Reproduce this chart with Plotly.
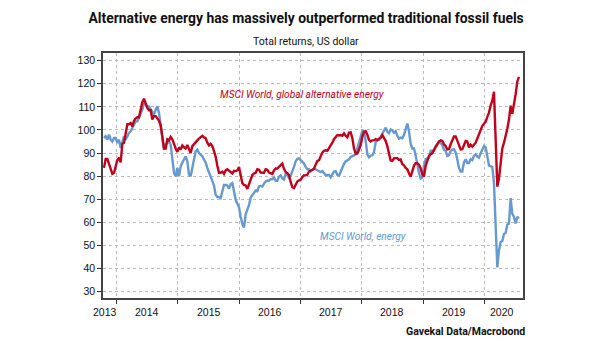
import pandas as pd
import plotly.graph_objects as go

# Sampling dates (~10-day steps, Oct 2013 - Jul 2020)
dates = pd.date_range("2013-10-17", "2020-07-26", periods=250)

alt_energy = [
    83.6, 87.5, 87.5, 85.5, 83, 81, 81.5, 84.5, 87, 88, 86, 94, 94.5, 98.5, 102.5, 102.5, 103, 101.5, 104, 105,
    105.5, 105.5, 108.5, 112, 113.5, 111.5, 109.5, 108.5, 108.5, 104.5, 106, 106, 105, 104, 102, 97, 92, 92, 96, 95.5,
    97, 96, 93.5, 92, 90.5, 92.5, 91.5, 93.3, 92.5, 92, 93.5, 91.5, 90, 93, 94, 94.5, 95.5, 96.3, 96.8, 97.5,
    96.8, 96.5, 94.5, 93.3,
    94, 93, 90.8, 88.5, 84.5, 81.5, 81.5, 82, 81, 82.5, 83, 82.3, 82, 81.2, 82.3, 82.2, 82.5, 84, 80.5, 77,
    76.2, 76, 74.5, 76.5, 79, 80.5, 81.2, 81.5, 83, 82.8, 81.6, 81.5, 81.5, 83, 82.8, 81.6, 81.3, 81, 82.5, 83.3,
    83.3, 84, 85, 85.5, 83.2, 81.8, 81.3, 80.5, 77.5, 75.2, 74.8, 76.2, 77.7, 78.2, 78.5, 79.6, 80.3, 80.4, 80.6, 82,
    82.4, 82.8, 83.2,
    85, 86.6, 86.9, 88.5, 90.2, 91, 91.2, 91, 92, 93.2, 94.5, 96, 97, 97.8, 97.6, 97.8, 97.5, 98.5, 97.5, 96.8,
    98.9, 99, 96.5, 92, 89.8, 89.8, 91.4, 93.5, 97, 99.2, 99.5, 98, 95.7, 95, 95.5, 95.5, 96, 95.6, 96.2, 96.6,
    97.8, 96.8, 95.3, 93, 89, 86.8, 86.6, 87.7, 87.8, 87.8, 87, 87.2, 85.2, 84.7, 83.6, 83, 81.3, 79.8, 82.2, 84.6,
    85.6, 85.6, 85,
    83.5, 80.8, 79.8, 84.5, 87.2, 88.8, 89.5, 90, 91.4, 92.8, 94.3, 95, 95.5, 95.2, 93.8, 93, 91.6, 91.8, 93.8, 96,
    97.2, 97.2, 95.6, 93.8, 91.6, 91.7, 93.5, 95.2, 95, 92.5, 93.6, 92.8, 93.6, 94.5, 96.3, 98.2, 100, 101.8, 102.7, 103.5,
    105.7, 107.5, 110.5, 112.7, 116.5, 98, 75.5, 79, 86.8, 92, 94.5, 97.3, 100.5, 104.5, 110.5, 107, 110.5, 115.5, 121, 123,
]

energy = [
    96.5, 97.3, 95.8, 98, 95.8, 95, 96.5, 96.5, 94.4, 95.8, 92.2, 95, 97.3, 95.8, 97.3, 98.7, 99.4, 100.9, 102.3, 103.7,
    103.7, 105.2, 106.6, 108.8, 111.7, 111, 110.2, 110.2, 108.8, 107.3, 106.6, 108.8, 110.2, 107.3, 101.6, 96.5, 91.5, 93.7, 94.4, 95,
    93.7, 88.6, 81.4, 80, 83.6, 80, 84.3, 85.8, 87.2, 88.6, 86.5, 80.7, 80, 84.3, 87.2, 90.8, 91.5, 90, 89.4, 88.6,
    87.2, 85.8, 83.6, 81.4,
    79.5, 78, 76, 72, 71, 71, 70.5, 74, 76.2, 76.2, 76, 74.6, 76.5, 77, 73, 69.8, 68.2, 66.5, 62.5, 59.3,
    57.8, 63.5, 65.5, 67.5, 70.8, 71.8, 72.5, 73.8, 73.5, 75.6, 75.8, 75.5, 76.8, 77.7, 78, 78, 78.8, 78.7, 79.5, 78,
    78, 79.8, 80.4, 79, 78.5, 81, 80.5, 79.3, 80.2, 81.9, 84, 86.4, 87.5, 87.7, 86.9, 86.2, 85.5, 84, 83, 83,
    82, 82.6, 83.2,
    83, 82.5, 82.2, 81.8, 82.2, 81.2, 80.4, 80.5, 80.5, 79.5, 80.5, 82, 82.2, 80.6, 80.2, 82.2, 84.2, 85.3, 86.4, 86.9,
    87.3, 88.3, 88.5, 89, 89.5, 91.9, 94.8, 97.7, 99.6, 99.3, 95.5, 89.5, 88.2, 88.9, 89, 90.4, 94.6, 95.5, 95.6, 97,
    98.3, 99.8, 101, 99.2, 98.6, 100.2, 99.8, 98.8, 99.5, 97.5, 96.3, 96.7, 96.4, 97.8, 100.5, 102.8, 99.5, 94, 92, 92,
    89, 85, 81.5,
    79, 79.5, 84.5, 87.4, 87.7, 88, 91, 91, 91, 93, 93.8, 94.9, 94.3, 93.5, 91.4, 91, 88.7, 89.1, 90.9, 91.5,
    91.6, 90.3, 87.2, 83.6, 82, 82, 86, 87.3, 85.7, 85.7, 87.4, 87, 88.8, 89.5, 88.5, 88, 89.9, 91.7, 93, 92.5,
    88, 84.6, 84.4, 84, 77, 61, 40.5, 48, 51.5, 52, 55, 55.5, 59, 59.5, 70.5, 63.8, 62.4, 59.5, 62.4, 61.7,
]

year_ticks = ["2014-01-01", "2015-01-01", "2016-01-01", "2017-01-01", "2018-01-01", "2019-01-01", "2020-01-01"]
year_labels = ["2013", "2014", "2015", "2016", "2017", "2018", "2019", "2020"]
year_label_pos = ["2013-10-20", "2014-07-02", "2015-07-02", "2016-07-02", "2017-07-02",
                  "2018-07-02", "2019-07-02", "2020-04-14"]
y_ticks = list(range(30, 131, 10))

RED = "#C3001B"
BLUE = "#6699CF"
FONT = "Roboto"
TICKFONT = "Liberation Sans"

fig = go.Figure()
fig.add_trace(go.Scatter(x=dates, y=energy, mode="lines",
                         line=dict(color=BLUE, width=2.4), showlegend=False))
fig.add_trace(go.Scatter(x=dates, y=alt_energy, mode="lines",
                         line=dict(color=RED, width=2.4), showlegend=False))

fig.update_layout(
    width=605, height=341,
    margin=dict(l=103, r=82, t=53, b=43),
    paper_bgcolor="white", plot_bgcolor="white",
    title=dict(text="<b>Alternative energy has massively outperformed traditional fossil fuels</b>",
               x=0.506, xanchor="center", y=0.947, yanchor="middle",
               font=dict(family=FONT, size=13.9, color="#111")),
    font=dict(family=TICKFONT, size=10.5, color="#111"),
)

fig.update_xaxes(
    type="date", range=["2013-10-11", "2020-08-19"],
    tickvals=year_ticks, showticklabels=False,
    ticks="outside", ticklen=4, tickcolor="#333", tickwidth=1,
    showgrid=True, gridcolor="#BBBBBB", griddash="dot", gridwidth=1,
    showline=True, linecolor="#444", linewidth=1.5, mirror=True,
    zeroline=False,
)
fig.update_yaxes(
    range=[27.3, 133.3], tickvals=y_ticks,
    ticks="outside", ticklen=4, tickcolor="#333", tickwidth=1,
    tickfont=dict(family=TICKFONT, size=10.5, color="#111"),
    showgrid=True, gridcolor="#BBBBBB", griddash="dot", gridwidth=1,
    showline=True, linecolor="#444", linewidth=1.5, mirror=True,
    zeroline=False,
)

for lab, pos in zip(year_labels, year_label_pos):
    fig.add_annotation(x=pos, y=-0.056, xref="x", yref="paper", text=lab, showarrow=False,
                       xanchor="center", yanchor="middle",
                       font=dict(family=TICKFONT, size=10.5, color="#111"))

fig.add_annotation(x=0.483, y=1.045, xref="paper", yref="paper", text="Total returns, US dollar",
                   showarrow=False, xanchor="center", yanchor="middle",
                   font=dict(family=FONT, size=10.5, color="#111"))
fig.add_annotation(x=0.274, y=0.829, xref="paper", yref="paper",
                   text="<i>MSCI World, global alternative energy</i>",
                   showarrow=False, xanchor="left", yanchor="middle",
                   font=dict(family=FONT, size=10.2, color=RED))
fig.add_annotation(x=0.512, y=0.253, xref="paper", yref="paper",
                   text="<i>MSCI World, energy</i>",
                   showarrow=False, xanchor="left", yanchor="middle",
                   font=dict(family=FONT, size=10.2, color=BLUE))
fig.add_annotation(x=1.0095, y=-0.135, xref="paper", yref="paper",
                   text="<b>Gavekal Data/Macrobond</b>",
                   showarrow=False, xanchor="right", yanchor="middle",
                   font=dict(family=FONT, size=10.5, color="#111"))

fig.write_html("out.html")
